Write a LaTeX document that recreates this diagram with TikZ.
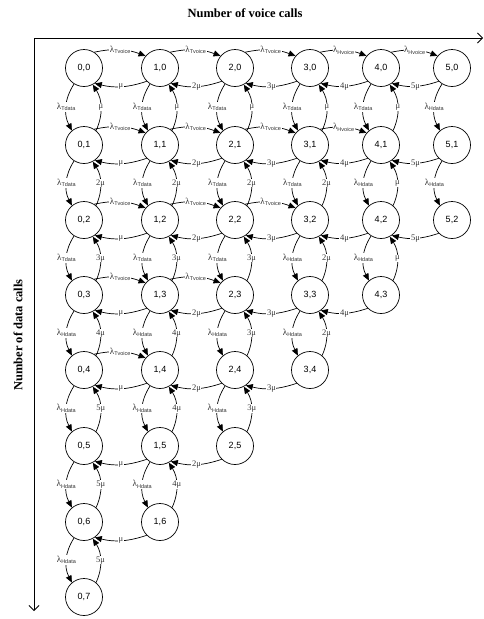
\documentclass[tikz,border=0pt]{standalone}
\usepackage{fontspec}
\setmainfont{Liberation Serif}
\newfontfamily\sansf{Liberation Sans}
\usetikzlibrary{arrows.meta}
\newcommand\lamlbl[1]{{\fontsize{9}{9}\selectfont λ}\raisebox{-1.6pt}{\sansf\fontsize{5.5}{6}\selectfont #1}}
\newcommand\mulbl[1]{{\fontsize{8.5}{9}\selectfont #1μ}}
\tikzset{
  st/.style={circle,draw,line width=0.7pt,minimum size=37pt,inner sep=0pt,font=\sansf\fontsize{9}{10}\selectfont},
  arr/.style={line width=0.7pt,-{Triangle[length=7pt,width=6pt]}},
  lbl/.style={fill=white,inner sep=0.6pt,text=black!80},
  axis/.style={line width=0.8pt,-{Straight Barb[length=5pt,width=10pt]}}
}
\newcommand\myHF[3]{\draw[arr] (#1.57) to[bend left=16] node[lbl]{#3} (#2.140);}
\newcommand\myHB[3]{\draw[arr] (#2.-135) to[bend left=16] node[lbl]{#3} (#1.-55);}
\newcommand\myVF[3]{\draw[arr] (#1.-122) to[bend right=30] node[lbl]{#3} (#2.130);}
\newcommand\myVB[3]{\draw[arr] (#2.50) to[bend right=28] node[lbl]{#3} (#1.-62);}
\begin{document}
\begin{tikzpicture}[x=1pt,y=1pt]
\useasboundingbox (0,0) rectangle (483,-619);
% axes
\coordinate (o) at (34,-38);
\coordinate (xe) at (483,-38);
\coordinate (ye) at (34,-611);
\draw[axis] (o) -- (xe);
\draw[axis] (o) -- (ye);
\node[font=\bfseries\fontsize{12.5}{14}\selectfont] (xt) at (245,-13) {Number of voice calls};
\node[font=\bfseries\fontsize{12.5}{14}\selectfont,rotate=90] (yt) at (18,-335) {Number of data calls};
% states
\foreach \c/\x in {0/84,1/160,2/235,3/310,4/381,5/452}{
  \foreach \r/\y in {0/68,1/145,2/220,3/295,4/370,5/446,6/522,7/597}{
    \pgfmathtruncatemacro\ok{(\c<=5)&&(\r<=7)&&((\c+\r<=7)||(\r<=2))}
    \ifnum\ok=1
      \node[st] (n\c\r) at (\x,-\y) {\c,\r};
    \fi
  }
}
% horizontal forward (voice arrivals)
\myHF{n00}{n10}{\lamlbl{Tvoice}}
\myHF{n10}{n20}{\lamlbl{Tvoice}}
\myHF{n20}{n30}{\lamlbl{Tvoice}}
\myHF{n30}{n40}{\lamlbl{Hvoice}}
\myHF{n40}{n50}{\lamlbl{Hvoice}}
\myHF{n01}{n11}{\lamlbl{Tvoice}}
\myHF{n11}{n21}{\lamlbl{Tvoice}}
\myHF{n21}{n31}{\lamlbl{Tvoice}}
\myHF{n31}{n41}{\lamlbl{Hvoice}}
\myHF{n02}{n12}{\lamlbl{Tvoice}}
\myHF{n12}{n22}{\lamlbl{Tvoice}}
\myHF{n22}{n32}{\lamlbl{Tvoice}}
\myHF{n03}{n13}{\lamlbl{Tvoice}}
\myHF{n13}{n23}{\lamlbl{Tvoice}}
\myHF{n04}{n14}{\lamlbl{Tvoice}}
% horizontal back (voice departures)
\myHB{n00}{n10}{\mulbl{}}
\myHB{n10}{n20}{\mulbl{2}}
\myHB{n20}{n30}{\mulbl{3}}
\myHB{n30}{n40}{\mulbl{4}}
\myHB{n40}{n50}{\mulbl{5}}
\myHB{n01}{n11}{\mulbl{}}
\myHB{n11}{n21}{\mulbl{2}}
\myHB{n21}{n31}{\mulbl{3}}
\myHB{n31}{n41}{\mulbl{4}}
\myHB{n41}{n51}{\mulbl{5}}
\myHB{n02}{n12}{\mulbl{}}
\myHB{n12}{n22}{\mulbl{2}}
\myHB{n22}{n32}{\mulbl{3}}
\myHB{n32}{n42}{\mulbl{4}}
\myHB{n42}{n52}{\mulbl{5}}
\myHB{n03}{n13}{\mulbl{}}
\myHB{n13}{n23}{\mulbl{2}}
\myHB{n23}{n33}{\mulbl{3}}
\myHB{n33}{n43}{\mulbl{4}}
\myHB{n04}{n14}{\mulbl{}}
\myHB{n14}{n24}{\mulbl{2}}
\myHB{n24}{n34}{\mulbl{3}}
\myHB{n05}{n15}{\mulbl{}}
\myHB{n15}{n25}{\mulbl{2}}
\myHB{n06}{n16}{\mulbl{}}
% vertical forward (data arrivals)
\myVF{n00}{n01}{\lamlbl{Tdata}}
\myVF{n01}{n02}{\lamlbl{Tdata}}
\myVF{n02}{n03}{\lamlbl{Tdata}}
\myVF{n03}{n04}{\lamlbl{Hdata}}
\myVF{n04}{n05}{\lamlbl{Hdata}}
\myVF{n05}{n06}{\lamlbl{Hdata}}
\myVF{n06}{n07}{\lamlbl{Hdata}}
\myVF{n10}{n11}{\lamlbl{Tdata}}
\myVF{n11}{n12}{\lamlbl{Tdata}}
\myVF{n12}{n13}{\lamlbl{Tdata}}
\myVF{n13}{n14}{\lamlbl{Hdata}}
\myVF{n14}{n15}{\lamlbl{Hdata}}
\myVF{n15}{n16}{\lamlbl{Hdata}}
\myVF{n20}{n21}{\lamlbl{Tdata}}
\myVF{n21}{n22}{\lamlbl{Tdata}}
\myVF{n22}{n23}{\lamlbl{Tdata}}
\myVF{n23}{n24}{\lamlbl{Hdata}}
\myVF{n24}{n25}{\lamlbl{Hdata}}
\myVF{n30}{n31}{\lamlbl{Tdata}}
\myVF{n31}{n32}{\lamlbl{Tdata}}
\myVF{n32}{n33}{\lamlbl{Hdata}}
\myVF{n33}{n34}{\lamlbl{Hdata}}
\myVF{n40}{n41}{\lamlbl{Tdata}}
\myVF{n41}{n42}{\lamlbl{Hdata}}
\myVF{n42}{n43}{\lamlbl{Hdata}}
\myVF{n50}{n51}{\lamlbl{Hdata}}
\myVF{n51}{n52}{\lamlbl{Hdata}}
% vertical back (data departures)
\myVB{n00}{n01}{\mulbl{}}
\myVB{n01}{n02}{\mulbl{2}}
\myVB{n02}{n03}{\mulbl{3}}
\myVB{n03}{n04}{\mulbl{4}}
\myVB{n04}{n05}{\mulbl{5}}
\myVB{n05}{n06}{\mulbl{5}}
\myVB{n06}{n07}{\mulbl{5}}
\myVB{n10}{n11}{\mulbl{}}
\myVB{n11}{n12}{\mulbl{2}}
\myVB{n12}{n13}{\mulbl{3}}
\myVB{n13}{n14}{\mulbl{4}}
\myVB{n14}{n15}{\mulbl{4}}
\myVB{n15}{n16}{\mulbl{4}}
\myVB{n20}{n21}{\mulbl{}}
\myVB{n21}{n22}{\mulbl{2}}
\myVB{n22}{n23}{\mulbl{3}}
\myVB{n23}{n24}{\mulbl{3}}
\myVB{n24}{n25}{\mulbl{3}}
\myVB{n30}{n31}{\mulbl{}}
\myVB{n31}{n32}{\mulbl{2}}
\myVB{n32}{n33}{\mulbl{2}}
\myVB{n33}{n34}{\mulbl{2}}
\myVB{n40}{n41}{\mulbl{}}
\myVB{n41}{n42}{\mulbl{}}
\myVB{n42}{n43}{\mulbl{}}
\end{tikzpicture}
\end{document}
